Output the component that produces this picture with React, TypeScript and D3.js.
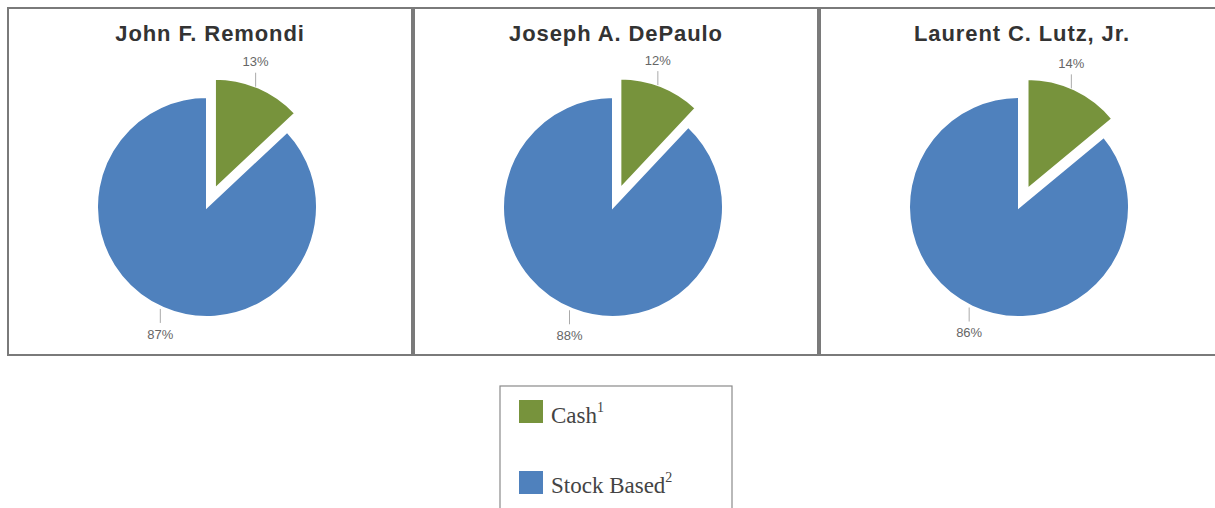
import React from "react";
import * as d3 from "d3";

const names = ["John F. Remondi", "Joseph A. DePaulo", "Laurent C. Lutz, Jr."];
const cashPct = [13, 12, 14];
const stockPct = [87, 88, 86];
const legendLabels = ["Cash", "Stock Based"];
const legendSup = ["1", "2"];
const colors = ["#77933C", "#4F81BD"];

const W = 1215;
const H = 508;
const panelX = [8, 414, 820];
const panelW = 404;
const panelTop = 8;
const panelBottom = 355;
const R = 110;
const explode = 20;
const cy = 207;

export default function App() {
  const pie = d3.pie<number>().sort(null).value((d) => d);
  const arc = d3.arc<d3.PieArcDatum<number>>().innerRadius(0).outerRadius(R);

  return (
    <svg width={W} height={H} style={{ position: "absolute", left: 0, top: 0, background: "#fff" }}>
      {names.map((name, i) => {
        const x0 = panelX[i];
        const cx = x0 + panelW / 2 - 3;
        const slices = pie([cashPct[i], stockPct[i]]);
        return (
          <g key={name}>
            <rect x={x0} y={panelTop} width={panelW} height={panelBottom - panelTop} fill="#fff" stroke="#7a7a7a" strokeWidth={2} />
            <text x={x0 + panelW / 2} y={41} textAnchor="middle" fontFamily="Liberation Sans, Arial, sans-serif" fontWeight="bold" fontSize={22} letterSpacing={0.9} fill="#333">
              {name}
            </text>
            {slices.map((s, j) => {
              const mid = (s.startAngle + s.endAngle) / 2;
              const dx = Math.sin(mid);
              const dy = -Math.cos(mid);
              const off = j === 0 ? explode : 0;
              const ox = cx + dx * off;
              const oy = cy + dy * off;
              const px = ox + dx * R;
              const py = oy + dy * R;
              const sgn = dy < 0 ? -1 : 1;
              const val = j === 0 ? cashPct[i] : stockPct[i];
              return (
                <g key={j}>
                  <path d={arc(s) || ""} transform={`translate(${ox},${oy})`} fill={colors[j]} stroke="#fff" strokeWidth={2} strokeLinejoin="miter" />
                  <line x1={px - 3} x2={px - 3} y1={py + sgn * 1} y2={py + sgn * 15} stroke="#aaa" strokeWidth={1} />
                  <text x={px - 3} y={py + sgn * 26} dy="0.35em" textAnchor="middle" fontFamily="Liberation Sans, Arial, sans-serif" fontSize={13} fill="#666">
                    {`${val}%`}
                  </text>
                </g>
              );
            })}
          </g>
        );
      })}
      <rect x={500} y={386} width={232} height={150} fill="#fff" stroke="#8a8a8a" strokeWidth={1.2} />
      {legendLabels.map((lab, k) => (
        <g key={lab}>
          <rect x={519} y={400 + k * 71} width={24} height={23} fill={colors[k]} />
          <text x={551} y={423 + k * 70} fontFamily="Liberation Serif, Times New Roman, serif" fontSize={23} fill="#444">
            {lab}
            <tspan fontSize={14} dy={-11}>{legendSup[k]}</tspan>
          </text>
        </g>
      ))}
    </svg>
  );
}
